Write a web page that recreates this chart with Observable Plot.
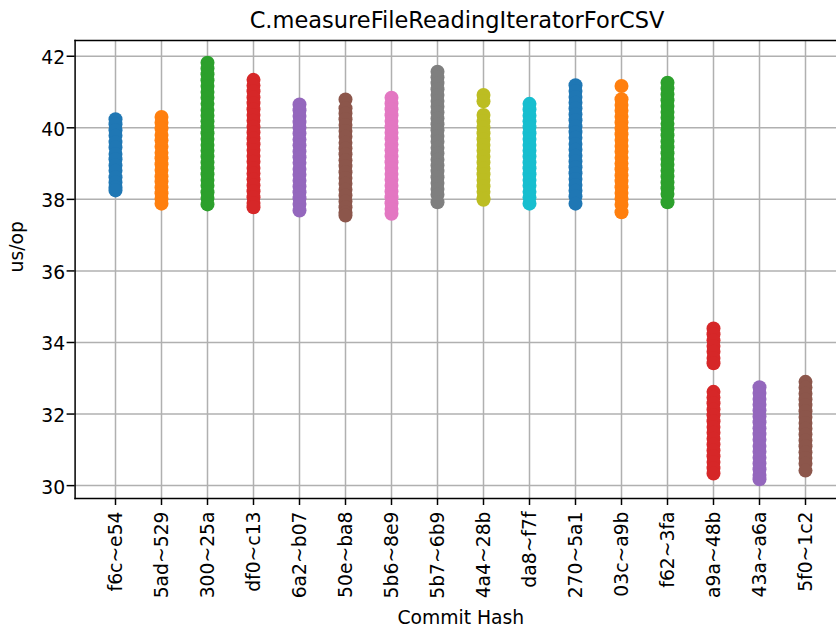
<!DOCTYPE html>
<html><head><meta charset="utf-8">
<script src="https://cdn.jsdelivr.net/npm/d3@7"></script>
<script src="https://cdn.jsdelivr.net/npm/@observablehq/plot@0.6"></script>
<style>
html,body{margin:0;padding:0;background:#fff;overflow:hidden;width:836px;height:630px;}
#title{font-family:"DejaVu Sans";font-size:22.5px;line-height:26px;height:25px;padding-top:7px;padding-left:78px;width:758px;text-align:center;color:#000;white-space:nowrap;}
</style></head><body>
<div id="title">C.measureFileReadingIteratorForCSV</div>
<div id="chart"></div>
<script>
const commits = ["f6c~e54","5ad~529","300~25a","df0~c13","6a2~b07","50e~ba8","5b6~8e9","5b7~6b9","4a4~28b","da8~f7f","270~5a1","03c~a9b","f62~3fa","a9a~48b","43a~a6a","5f0~1c2"];
const colors = ["#1f77b4","#ff7f0e","#2ca02c","#d62728","#9467bd","#8c564b","#e377c2","#7f7f7f","#bcbd22","#17becf","#1f77b4","#ff7f0e","#2ca02c","#d62728","#9467bd","#8c564b"];
const yTicks = [30,32,34,36,38,40,42];

const v_f6c = [40.24,40.1,39.93,39.78,39.6,39.45,39.27,39.12,38.95,38.8,38.62,38.47,38.33,38.25];
const v_5ad = [40.3,40.14,39.98,39.8,39.65,39.47,39.3,39.15,38.98,38.82,38.64,38.5,38.33,38.17,38.02,37.88];
const v_300 = [41.82,41.66,41.5,41.33,41.17,41.0,40.84,40.67,40.5,40.34,40.18,40.02,39.85,39.69,39.52,39.36,39.2,39.03,38.87,38.7,38.54,38.38,38.2,38.04,37.86];
const v_df0 = [41.34,41.18,41.02,40.85,40.69,40.52,40.36,40.2,40.03,39.87,39.7,39.54,39.38,39.21,39.05,38.88,38.72,38.56,38.39,38.23,38.06,37.9,37.78];
const v_6a2 = [40.65,40.49,40.33,40.16,40.0,39.84,39.67,39.51,39.34,39.18,39.02,38.85,38.69,38.52,38.36,38.2,38.03,37.87,37.69];
const v_50e = [40.79,40.55,40.4,40.24,40.08,39.91,39.75,39.58,39.42,39.26,39.09,38.93,38.76,38.6,38.44,38.27,38.11,37.94,37.78,37.63,37.55];
const v_5b6 = [40.84,40.68,40.52,40.35,40.19,40.02,39.86,39.7,39.53,39.37,39.2,39.04,38.88,38.71,38.55,38.38,38.22,38.06,37.89,37.73,37.6];
const v_5b7 = [41.57,41.41,41.25,41.08,40.92,40.75,40.59,40.43,40.26,40.1,39.93,39.77,39.61,39.44,39.28,39.11,38.95,38.79,38.62,38.46,38.29,38.13,37.92];
const v_4a4 = [40.92,40.74,40.36,40.18,40.01,39.85,39.68,39.52,39.36,39.19,39.03,38.86,38.7,38.54,38.37,38.21,38.04,37.99];
const v_da8 = [40.67,40.51,40.34,40.18,40.02,39.85,39.69,39.52,39.36,39.2,39.03,38.87,38.7,38.54,38.38,38.21,38.05,37.88];
const v_270 = [41.19,41.03,40.86,40.7,40.54,40.37,40.21,40.04,39.88,39.72,39.55,39.39,39.22,39.06,38.9,38.73,38.57,38.4,38.24,38.08,37.88];
const v_03c = [41.17,40.8,40.64,40.48,40.31,40.15,39.98,39.82,39.66,39.49,39.33,39.16,39.0,38.84,38.67,38.51,38.34,38.18,38.02,37.85,37.64];
const v_f62 = [41.26,41.1,40.93,40.77,40.61,40.44,40.28,40.11,39.95,39.79,39.62,39.46,39.29,39.13,38.97,38.8,38.64,38.47,38.31,38.15,37.92];
const v_a9a = [34.39,34.23,34.06,33.9,33.74,33.57,33.42,32.62,32.46,32.3,32.13,31.97,31.8,31.64,31.48,31.31,31.15,30.98,30.82,30.66,30.49,30.34];
const v_43a = [32.75,32.59,32.42,32.26,32.1,31.93,31.77,31.6,31.44,31.28,31.11,30.95,30.78,30.62,30.46,30.3,30.18];
const v_5f0 = [32.9,32.74,32.57,32.41,32.25,32.08,31.92,31.75,31.59,31.43,31.26,31.1,30.93,30.77,30.61,30.42];

const series = [v_f6c,v_5ad,v_300,v_df0,v_6a2,v_50e,v_5b6,v_5b7,v_4a4,v_da8,v_270,v_03c,v_f62,v_a9a,v_43a,v_5f0];
const data = commits.flatMap((c, i) => series[i].map(v => ({commit: c, value: v, color: colors[i]})));

const FS = 18.75;
const W = 836, ML = 74.6;
const plot = Plot.plot({
  width: W, height: 598,
  marginTop: 8, marginBottom: 132, marginLeft: ML, marginRight: 0,
  style: {fontFamily: "DejaVu Sans", fontSize: FS + "px", overflow: "hidden", background: "#fff", color: "#000"},
  x: {type: "point", domain: commits, range: [109.7, 811], padding: 0, axis: null},
  y: {domain: [29.64, 42.44], axis: null},
  marks: [
    Plot.gridX(commits, {stroke: "#b0b0b0", strokeOpacity: 1, strokeWidth: 1.5}),
    Plot.gridY(yTicks, {stroke: "#b0b0b0", strokeOpacity: 1, strokeWidth: 1.5}),
    Plot.dot(data, {x: "commit", y: "value", r: 7, fill: "color", stroke: "none"}),
    Plot.frame({anchor: "left", stroke: "#000", strokeWidth: 1.5}),
    Plot.frame({anchor: "top", stroke: "#000", strokeWidth: 1.5}),
    Plot.frame({anchor: "bottom", stroke: "#000", strokeWidth: 1.5}),
    Plot.ruleY(yTicks, {y: d => d, insetLeft: -8, insetRight: W - ML, stroke: "#000", strokeWidth: 1.5}),
    Plot.ruleX(commits, {x: d => d, insetTop: 458, insetBottom: -7, stroke: "#000", strokeWidth: 1.5}),
    Plot.text(yTicks, {y: d => d, text: d => String(d), frameAnchor: "left", textAnchor: "end", lineAnchor: "middle", dx: -10, dy: 2, fontSize: FS, fill: "#000"}),
    Plot.text(commits, {x: d => d, text: d => d, frameAnchor: "bottom", rotate: -90, textAnchor: "end", lineAnchor: "middle", dy: 13, fontSize: FS, fill: "#000"}),
    Plot.text(["Commit Hash"], {text: d => d, frameAnchor: "bottom", lineAnchor: "middle", dx: 5, dy: 119, fontSize: FS, fill: "#000"}),
    Plot.text(["us/op"], {text: d => d, frameAnchor: "left", rotate: -90, lineAnchor: "middle", dx: -58, dy: 3, fontSize: FS, fill: "#000"})
  ]
});
document.getElementById("chart").appendChild(plot);
</script>
</body></html>
